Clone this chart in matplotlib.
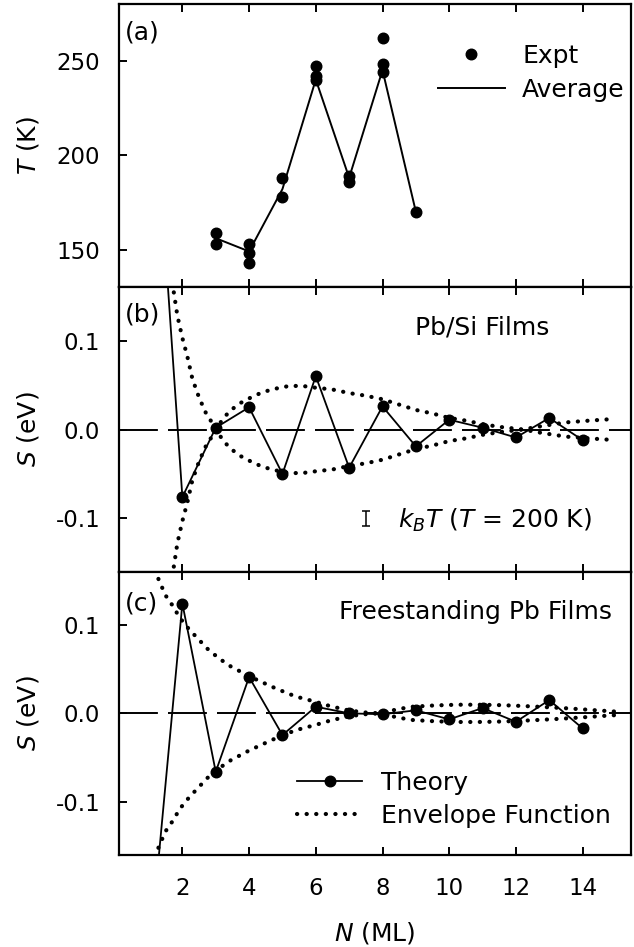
import matplotlib
matplotlib.use("Agg")
import matplotlib.pyplot as plt

plt.rcParams['font.family'] = ['DejaVu Sans']
plt.rcParams['mathtext.fontset'] = 'dejavusans'
plt.rcParams['axes.unicode_minus'] = False
plt.rcParams['font.size'] = 18

FS = 18        # annotation / label font size
TFS = 16.5     # tick label font size

# ---------------- Panel (a): transition temperature ----------------
expt_N = [3, 3, 4, 4, 4, 5, 5, 6, 6, 6, 7, 7, 8, 8, 8, 9]
expt_T = [159, 153, 153, 148, 143, 188, 178, 247, 242, 240, 189, 186, 262, 248, 244, 170]
avg_N = [3, 4, 5, 6, 7, 8, 9]
avg_T = [156, 149, 182, 240, 188, 245, 170]

# ---------------- Panel (b): Pb/Si films ----------------
b_N = [1, 2, 3, 4, 5, 6, 7, 8, 9, 10, 11, 12, 13, 14]
b_S = [0.47, -0.076, 0.002, 0.025, -0.050, 0.060, -0.043, 0.026, -0.019,
       0.011, 0.002, -0.009, 0.013, -0.012]
b_env_N = [1.70, 1.85, 2.0, 2.15, 2.3, 2.5, 2.7, 2.85, 3.0, 3.2, 3.4, 3.7,
           4.0, 4.4, 4.8, 5.2, 5.6, 6.0, 6.5, 7.0, 7.5, 8.0, 8.5, 9.0, 9.5,
           10.0, 10.5, 11.0, 11.5, 12.2, 12.8, 13.5, 14.2, 15.0]
b_env_A = [0.165, 0.128, 0.103, 0.082, 0.057, 0.036, 0.019, 0.010, 0.0,
           -0.011, -0.020, -0.029, -0.035, -0.042, -0.046, -0.049, -0.049,
           -0.047, -0.045, -0.041, -0.038, -0.034, -0.028, -0.022, -0.018,
           -0.013, -0.010, -0.006, -0.003, 0.0, 0.004, 0.008, 0.010, 0.012]
kbt_N = [7.5]
kbt_S = [-0.1]
kbt_val = 0.0172

# ---------------- Panel (c): freestanding Pb films ----------------
c_N = [1, 2, 3, 4, 5, 6, 7, 8, 9, 10, 11, 12, 13, 14]
c_S = [-0.28, 0.124, -0.066, 0.041, -0.0245, 0.0075, 0.0, -0.001, 0.0034,
       -0.0068, 0.006, -0.0095, 0.015, -0.017]
c_env_N = [1.18, 1.3, 1.5, 1.72, 1.92, 2.2, 2.5, 2.75, 3.1, 3.45, 4.0, 4.4,
           4.75, 5.1, 5.4, 5.8, 6.0, 6.4, 6.9, 7.4, 7.9, 8.5, 8.9, 9.5, 10.0,
           10.4, 11.0, 11.5, 11.9, 12.5, 13.0, 13.4, 14.0, 14.5, 15.0]
c_env_A = [0.162, 0.150, 0.133, 0.121, 0.108, 0.095, 0.083, 0.073, 0.062,
           0.053, 0.042, 0.035, 0.029, 0.0235, 0.019, 0.015, 0.013, 0.0085,
           0.004, 0.0012, 0.0, -0.005, -0.0075, -0.0088, -0.0095, -0.0098,
           -0.0097, -0.0093, -0.0088, -0.0078, -0.0068, -0.006, -0.0045,
           -0.0032, -0.002]

xticks = [2, 4, 6, 8, 10, 12, 14]

W, H = 634, 947
fig = plt.figure(figsize=(W / 100, H / 100), dpi=100)
left, right = 119, 631
def add_ax(top, bottom):
    return fig.add_axes([left / W, 1 - bottom / H, (right - left) / W, (bottom - top) / H])

axa = add_ax(4, 287.3)
axb = add_ax(287.3, 571.7)
axc = add_ax(571.7, 855)

dot_style = dict(linestyle=(0, (0.05, 2.25)), linewidth=3.0, dash_capstyle='round', color='black')
dash_style = dict(linestyle=(0, (20.0, 5.2)), linewidth=1.4, color='black')

ylab_x = (41 - left) / (right - left)
for ax in (axa, axb, axc):
    ax.set_xlim(0.1, 15.45)
    ax.set_xticks(xticks)
    ax.tick_params(axis='both', direction='in', length=6, width=1.4, labelsize=TFS)
    ax.tick_params(axis='x', top=True, bottom=True, pad=16)
    ax.tick_params(axis='y', pad=13.5)
    for s in ax.spines.values():
        s.set_linewidth(1.6)

axa.tick_params(axis='x', labelbottom=False)
axb.tick_params(axis='x', labelbottom=False)

# Panel a
axa.plot(expt_N, expt_T, 'o', color='black', markersize=7.6, linestyle='none', label='Expt')
axa.plot(avg_N, avg_T, '-', color='black', linewidth=1.4, label='Average')
axa.set_ylim(130, 280)
axa.set_yticks([150, 200, 250])
axa.set_ylabel('$T$ (K)', fontsize=FS)
axa.yaxis.set_label_coords(ylab_x, 0.5)
axa.text(0.012, 0.898, '(a)', transform=axa.transAxes, fontsize=FS, va='center', ha='left')
axa.legend(loc='upper left', bbox_to_anchor=(0.623, 0.86), frameon=False,
           handlelength=2.67, handletextpad=0.7, labelspacing=0.4,
           borderpad=0, borderaxespad=0, fontsize=FS, numpoints=1)

# Panel b
axb.axhline(0, **dash_style)
axb.plot(b_env_N, b_env_A, **dot_style)
axb.plot(b_env_N, [-a for a in b_env_A], **dot_style)
axb.plot(b_N, b_S, '-o', color='black', linewidth=1.3, markersize=7.6)
axb.errorbar(kbt_N, kbt_S, yerr=kbt_val / 2, fmt='none', ecolor='black',
             elinewidth=1.1, capsize=3, capthick=1.1)
axb.set_ylim(-0.16, 0.16)
axb.set_yticks([-0.1, 0.0, 0.1])
axb.set_yticklabels(['-0.1', '0.0', '0.1'])
axb.set_ylabel('$S$ (eV)', fontsize=FS)
axb.yaxis.set_label_coords(ylab_x, 0.5)
axb.text(0.012, 0.903, '(b)', transform=axb.transAxes, fontsize=FS, va='center', ha='left')
axb.text(0.709, 0.857, 'Pb/Si Films', transform=axb.transAxes, fontsize=FS, va='center', ha='center')
axb.text(0.545, 0.154, '$k_BT$ ($T$ = 200 K)', transform=axb.transAxes, fontsize=FS,
         va='baseline', ha='left')

# Panel c
axc.axhline(0, **dash_style)
axc.plot(c_env_N, c_env_A, **dot_style, label='Envelope Function')
axc.plot(c_env_N, [-a for a in c_env_A], **dot_style)
axc.plot(c_N, c_S, '-o', color='black', linewidth=1.3, markersize=7.6, label='Theory')
axc.set_ylim(-0.16, 0.16)
axc.set_yticks([-0.1, 0.0, 0.1])
axc.set_yticklabels(['-0.1', '0.0', '0.1'])
axc.set_ylabel('$S$ (eV)', fontsize=FS)
axc.yaxis.set_label_coords(ylab_x, 0.5)
axc.set_xlabel('$N$ (ML)', fontsize=FS)
axc.xaxis.set_label_coords(0.5, -(920 - 855) / (855 - 571.7))
axc.text(0.012, 0.889, '(c)', transform=axc.transAxes, fontsize=FS, va='center', ha='left')
axc.text(0.696, 0.858, 'Freestanding Pb Films', transform=axc.transAxes, fontsize=FS,
         va='center', ha='center')
h, l = axc.get_legend_handles_labels()
axc.legend([h[1], h[0]], [l[1], l[0]], loc='lower left', bbox_to_anchor=(0.347, 0.097),
           frameon=False, handlelength=2.63, handletextpad=0.75, labelspacing=0.35,
           borderpad=0, borderaxespad=0, fontsize=FS, numpoints=1)

fig.savefig('out.png', dpi=100)
